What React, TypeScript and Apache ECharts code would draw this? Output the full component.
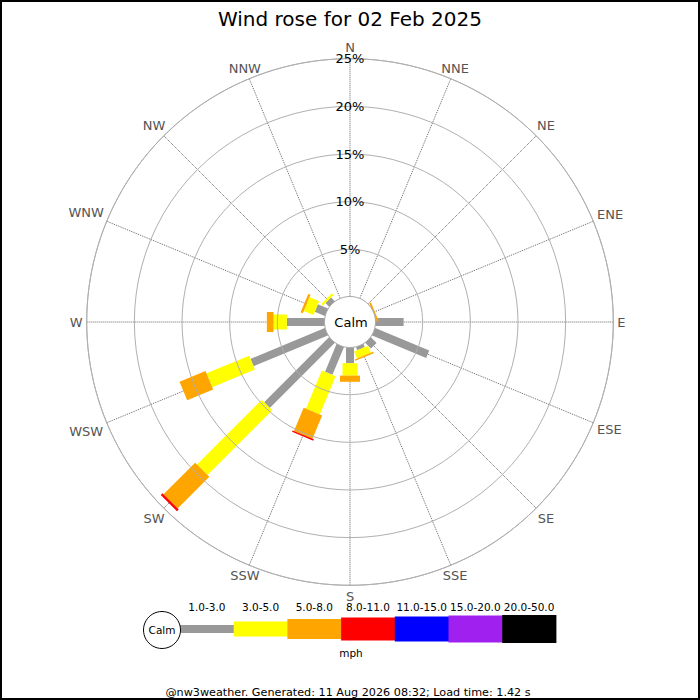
import React, { useEffect, useRef } from "react";
import * as echarts from "echarts";

// ---- data ----
const directions = ["N", "NNE", "NE", "ENE", "E", "ESE", "SE", "SSE", "S", "SSW", "SW", "WSW", "W", "WNW", "NW", "NNW"];
const speedBands = ["1.0-3.0", "3.0-5.0", "5.0-8.0", "8.0-11.0", "11.0-15.0", "15.0-20.0", "20.0-50.0"];
// percentage of time per direction, for each speed band (mph)
const band1to3 = [0, 0, 0, 0, 3.0, 6.2, 0.9, 0.4, 1.7, 3.2, 9.7, 8.5, 4.0, 1.2, 0.6, 0];
const band3to5 = [0, 0, 0, 0, 0, 0, 0, 0.8, 1.3, 4.35, 9.6, 4.85, 1.4, 1.1, 0.25, 0];
const band5to8 = [0, 0, 0, 0.2, 0, 0, 0, 0.15, 0.65, 2.65, 4.7, 2.95, 0.7, 0.25, 0, 0];
const band8to11 = [0, 0, 0, 0, 0, 0, 0, 0, 0, 0.15, 0.25, 0, 0, 0, 0, 0];
const band11to15 = [0, 0, 0, 0, 0, 0, 0, 0, 0, 0, 0, 0, 0, 0, 0, 0];
const band15to20 = [0, 0, 0, 0, 0, 0, 0, 0, 0, 0, 0, 0, 0, 0, 0, 0];
const band20to50 = [0, 0, 0, 0, 0, 0, 0, 0, 0, 0, 0, 0, 0, 0, 0, 0];
const bandValues = [band1to3, band3to5, band5to8, band8to11, band11to15, band15to20, band20to50];
const radialTicks = [0, 5, 10, 15, 20, 25];
const titleText = "Wind rose for 02 Feb 2025";
const unitText = "mph";
const calmText = "Calm";
const footerText = "@nw3weather. Generated: 11 Aug 2026 08:32; Load time: 1.42 s";

// ---- styles ----
const bandColors = ["#999999", "#ffff00", "#ffa500", "#ff0000", "#0000ff", "#a020f0", "#000000"];
const bandWidths = [8, 15, 20, 23, 25, 27, 28];
const FONT = "DejaVu Sans";

export default function App() {
  const ref = useRef<HTMLDivElement>(null);
  useEffect(() => {
    if (!ref.current) return;
    const chart = echarts.init(ref.current, undefined, { renderer: "svg" });
    const step = 360 / directions.length;
    const rMax = radialTicks[radialTicks.length - 1];

    const series: any[] = bandValues.map((vals, b) => {
      const data: number[][] = [];
      vals.forEach((v, i) => {
        if (v <= 0) return;
        let start = 0;
        for (let k = 0; k < b; k++) start += bandValues[k][i];
        data.push([i * step, start, start + v]);
      });
      const w = bandWidths[b];
      const color = bandColors[b];
      return {
        type: "custom",
        name: speedBands[b],
        coordinateSystem: "polar",
        encode: { angle: 0, radius: [1, 2] },
        clip: false,
        z: 5,
        data,
        renderItem: (params: any, api: any) => {
          const ang = api.value(0);
          const r0 = api.value(1);
          const r1 = api.value(2);
          const p0 = api.coord([r0, ang]);
          const p1 = api.coord([r1, ang]);
          const cs = params.coordSys;
          let ux = p1[0] - cs.cx;
          let uy = p1[1] - cs.cy;
          const len = Math.hypot(ux, uy) || 1;
          ux /= len;
          uy /= len;
          const nx = (-uy * w) / 2;
          const ny = (ux * w) / 2;
          return {
            type: "polygon",
            shape: {
              points: [
                [p0[0] + nx, p0[1] + ny],
                [p1[0] + nx, p1[1] + ny],
                [p1[0] - nx, p1[1] - ny],
                [p0[0] - nx, p0[1] - ny],
              ],
            },
            style: { fill: color },
          };
        },
      };
    });

    // direction labels around the rose
    const dirFont = `13px '${FONT}'`;
    const ctx = document.createElement("canvas").getContext("2d");
    if (ctx) ctx.font = dirFont;
    series.push({
      type: "custom",
      name: "directions",
      coordinateSystem: "polar",
      encode: { angle: 0, radius: 1 },
      clip: false,
      silent: true,
      z: 20,
      data: directions.map((d, i) => [i * step, rMax]),
      renderItem: (params: any, api: any) => {
        const i = params.dataIndex;
        const ang = api.value(0);
        const p = api.coord([api.value(1), ang]);
        const cs = params.coordSys;
        let ux = p[0] - cs.cx;
        let uy = p[1] - cs.cy;
        const len = Math.hypot(ux, uy) || 1;
        ux /= len;
        uy /= len;
        const text = directions[i];
        const tw = ctx ? ctx.measureText(text).width : text.length * 9;
        const hw = tw / 2;
        const hh = 7;
        const dx = Math.abs(ux) > 1e-6 ? hw / Math.abs(ux) : Infinity;
        const dy = Math.abs(uy) > 1e-6 ? hh / Math.abs(uy) : Infinity;
        const dist = 4 + Math.min(dx, dy);
        return {
          type: "text",
          x: p[0] + ux * dist,
          y: p[1] + uy * dist,
          style: { text, font: dirFont, fill: "#555", align: "center", verticalAlign: "middle" },
        };
      },
    });

    // legend graphics
    const legX0 = 180;
    const legBlock = 53.7;
    const legY = 629;
    const graphics: any[] = [
      {
        type: "rect",
        shape: { x: 1, y: 1, width: 698, height: 698 },
        style: { fill: "none", stroke: "#000", lineWidth: 2 },
        z: 100,
      },
      {
        type: "circle",
        shape: { cx: 350, cy: 322, r: 25.5 },
        style: { fill: "#fff", stroke: "#aaa", lineWidth: 1 },
        z: 100,
      },
      {
        type: "text",
        x: 351,
        y: 322,
        style: { text: calmText, font: `13px '${FONT}'`, fill: "#000", align: "center", verticalAlign: "middle" },
        z: 101,
      },
      {
        type: "circle",
        shape: { cx: 162, cy: legY + 1, r: 18.5 },
        style: { fill: "#fff", stroke: "#000", lineWidth: 1 },
        z: 100,
      },
      {
        type: "text",
        x: 162,
        y: legY + 1,
        style: { text: calmText, font: `10.5px '${FONT}'`, fill: "#000", align: "center", verticalAlign: "middle" },
        z: 101,
      },
      {
        type: "text",
        x: 351,
        y: 653,
        style: { text: unitText, font: `10.5px '${FONT}'`, fill: "#000", align: "center", verticalAlign: "middle" },
        z: 101,
      },
      {
        type: "text",
        x: 348,
        y: 692,
        style: { text: footerText, font: `11.2px '${FONT}'`, fill: "#000", align: "center", verticalAlign: "middle" },
        z: 101,
      },
    ];
    speedBands.forEach((label, b) => {
      const x = legX0 + b * legBlock;
      const h = bandWidths[b];
      graphics.push({
        type: "rect",
        shape: { x, y: legY - h / 2, width: legBlock + 0.5, height: h },
        style: { fill: bandColors[b] },
        z: 99,
      });
      graphics.push({
        type: "text",
        x: x + legBlock / 2,
        y: 607,
        style: { text: label, font: `10.5px '${FONT}'`, fill: "#000", align: "center", verticalAlign: "middle" },
        z: 101,
      });
    });

    chart.setOption({
      animation: false,
      backgroundColor: "#fff",
      textStyle: { fontFamily: FONT },
      title: {
        text: titleText,
        left: "center",
        top: 4,
        textStyle: { fontFamily: FONT, fontSize: 20, fontWeight: "normal", color: "#000" },
      },
      polar: { center: [350, 322], radius: [25, 263.3] },
      angleAxis: {
        type: "value",
        min: 0,
        max: 360,
        interval: step,
        startAngle: 90,
        clockwise: true,
        axisLine: { show: true, lineStyle: { color: "#b0b0b0", width: 1 } },
        axisTick: { show: false },
        axisLabel: { show: false },
        splitLine: { show: true, lineStyle: { color: "#666", type: "dotted", width: 1 } },
      },
      radiusAxis: {
        type: "value",
        min: radialTicks[0],
        max: rMax,
        interval: radialTicks[1] - radialTicks[0],
        axisLine: { show: false },
        axisTick: { show: false },
        axisLabel: {
          show: true,
          margin: 0,
          align: "center",
          verticalAlign: "middle",
          padding: [0, 0, 6, 0],
          fontSize: 13,
          color: "#000",
          fontFamily: FONT,
          formatter: (v: number) => (v === 0 ? "" : v + "%"),
        },
        splitLine: { show: true, lineStyle: { color: "#b0b0b0", width: 1 } },
        z: 10,
      },
      graphic: graphics,
      series,
    });
    return () => chart.dispose();
  }, []);
  return (
    <div
      ref={ref}
      style={{ position: "absolute", left: 0, top: 0, width: 700, height: 700 }}
    />
  );
}
